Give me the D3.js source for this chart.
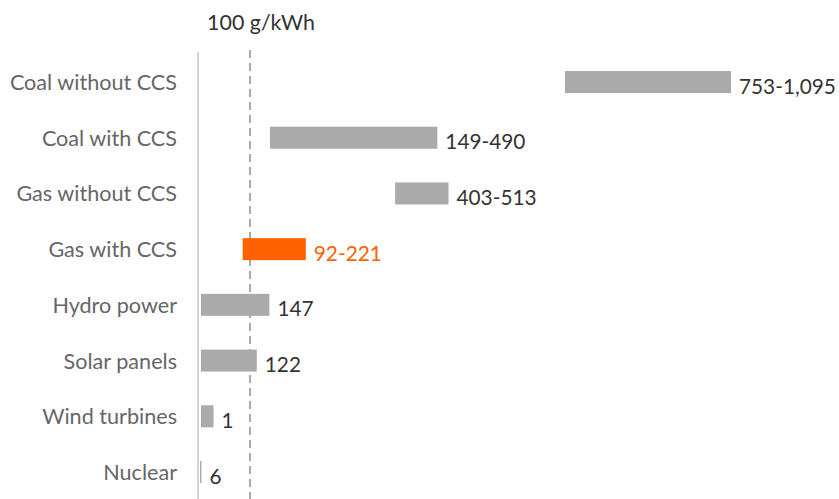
<!DOCTYPE html>
<html>
<head>
<meta charset="utf-8">
<script src="https://cdn.jsdelivr.net/npm/d3@7"></script>
<style>
  html, body { margin: 0; padding: 0; background: #fff; }
  svg { display: block; }
  text { font-family: Lato, "Open Sans", sans-serif; }
</style>
</head>
<body>
<svg id="chart" width="839" height="499"></svg>
<script>
const categories = ["Coal without CCS","Coal with CCS","Gas without CCS","Gas with CCS","Hydro power","Solar panels","Wind turbines","Nuclear"];
const lowValues  = [753, 145, 403, 89, 3, 3, 3, 1];
const highValues = [1095, 490, 513, 219, 144, 118, 29, 4];
const valueLabels = ["753-1,095","149-490","403-513","92-221","147","122","1","6"];
const highlighted = ["Gas with CCS"];
const referenceValue = 100;
const referenceLabel = "100 g/kWh";

const data = categories.map((c, i) => ({cat: c, lo: lowValues[i], hi: highValues[i], label: valueLabels[i]}));

const svg = d3.select("#chart");
const x = d3.scaleLinear().domain([0, 1095]).range([199.5, 731]);
const y = d3.scalePoint().domain(categories).range([82, 472]);
const barH = 22;
const grey = "#aaaaaa", orange = "#ff6200";

// axis line
svg.append("line")
  .attr("x1", x(0) - 1.5).attr("x2", x(0) - 1.5)
  .attr("y1", 52).attr("y2", 499)
  .attr("stroke", "#d4d4d4").attr("stroke-width", 2);

// reference dashed line
svg.append("line")
  .attr("x1", x(referenceValue) + 2).attr("x2", x(referenceValue) + 2)
  .attr("y1", 50).attr("y2", 499)
  .attr("stroke", "#aaaaaa").attr("stroke-width", 2)
  .attr("stroke-dasharray", "8,5");

svg.append("text")
  .attr("x", x(referenceValue) + 13).attr("y", 22)
  .attr("text-anchor", "middle").attr("dominant-baseline", "central")
  .attr("font-size", 21.4).attr("fill", "#333")
  .text(referenceLabel);

// bars
svg.selectAll("rect.bar").data(data).join("rect")
  .attr("class", "bar")
  .attr("x", d => x(d.lo))
  .attr("width", d => Math.max(1, x(d.hi) - x(d.lo)))
  .attr("y", d => y(d.cat) - barH / 2)
  .attr("height", barH)
  .attr("fill", d => highlighted.includes(d.cat) ? orange : grey);

// category labels
svg.selectAll("text.cat").data(data).join("text")
  .attr("class", "cat")
  .attr("x", 177).attr("y", d => y(d.cat))
  .attr("text-anchor", "end").attr("dominant-baseline", "central")
  .attr("font-size", 21.6).attr("fill", "#666")
  .text(d => d.cat);

// value labels
svg.selectAll("text.val").data(data).join("text")
  .attr("class", "val")
  .attr("x", d => Math.max(x(d.hi), x(d.lo) + 1) + 8)
  .attr("y", d => y(d.cat) + 3)
  .attr("dominant-baseline", "central")
  .attr("font-size", 20.8)
  .attr("fill", d => highlighted.includes(d.cat) ? orange : "#333")
  .text(d => d.label);
</script>
</body>
</html>
